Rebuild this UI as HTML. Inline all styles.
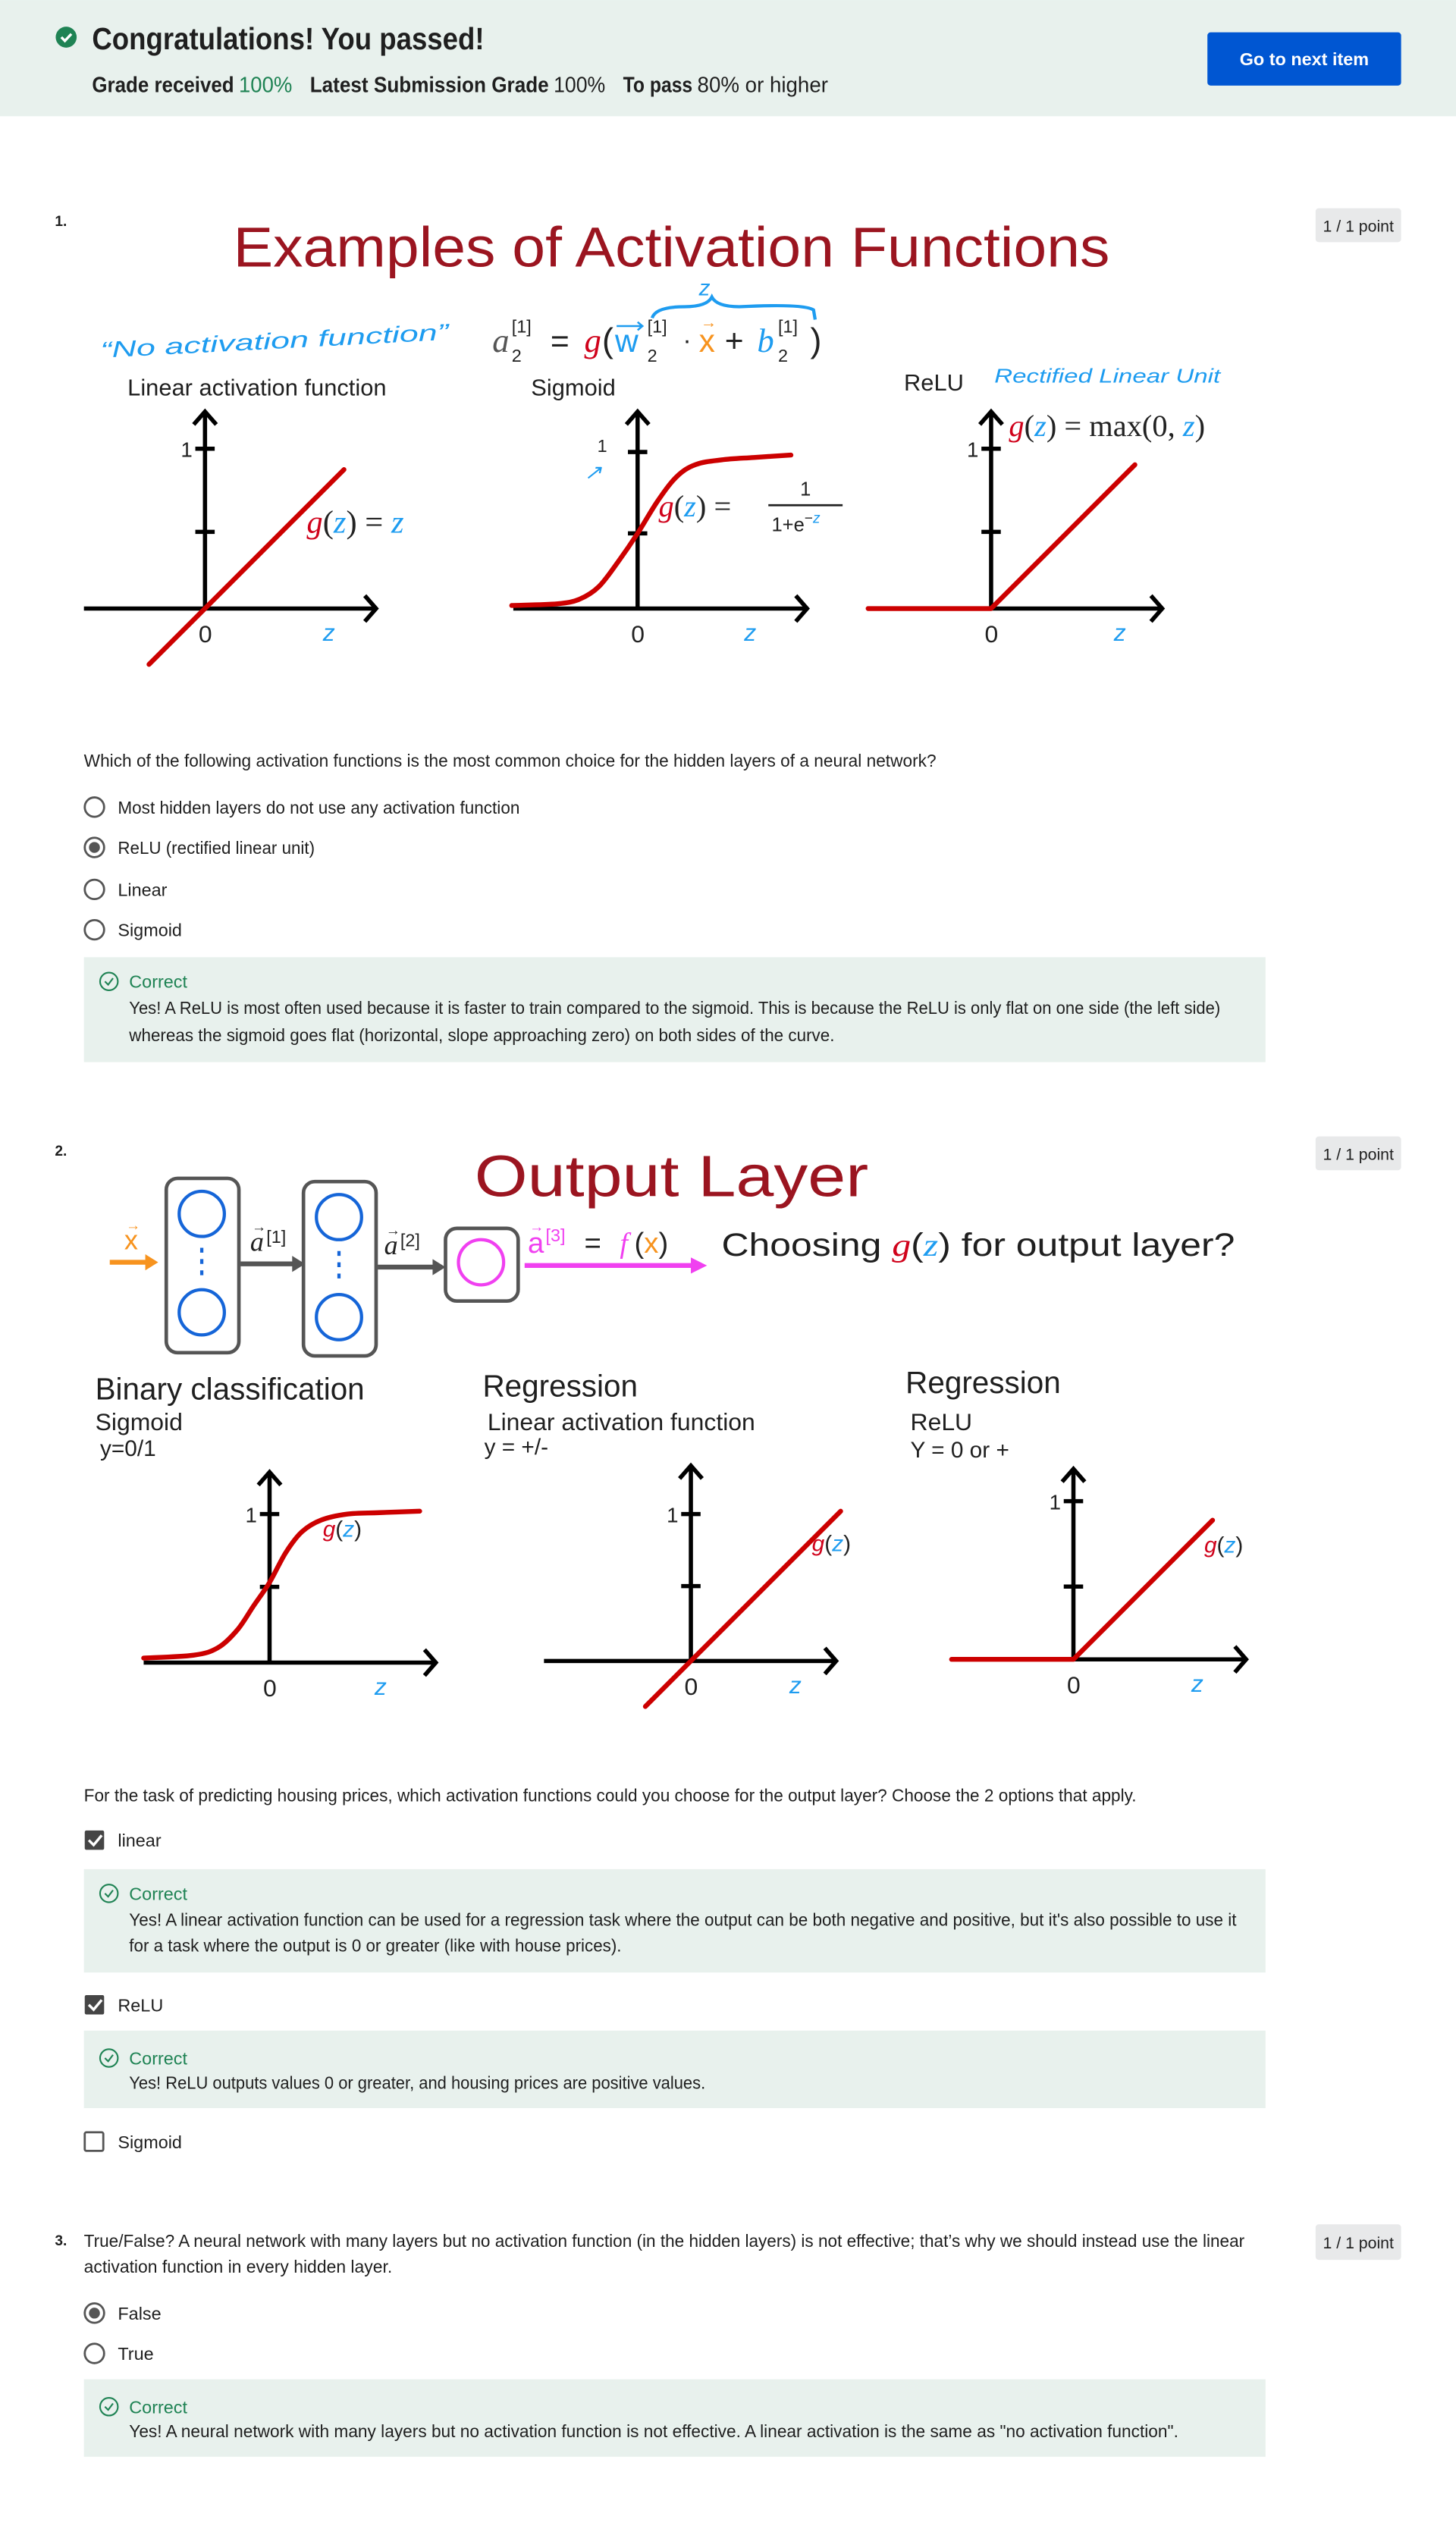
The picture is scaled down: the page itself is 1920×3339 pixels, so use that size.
<!DOCTYPE html>
<html><head><meta charset="utf-8">
<style>
html,body{margin:0;padding:0;background:#fff;}
svg{display:block;}
text{font-family:"Liberation Sans",sans-serif;}
.m{font-family:"Liberation Serif",serif;font-style:italic;}
.b{fill:#1f1f1f;}
.hand{font-family:"Liberation Sans",sans-serif;font-style:italic;fill:#1e9cf0;}
</style></head>
<body>
<svg id="page" width="1920" height="3339" viewBox="0 0 902 1568.6" xmlns="http://www.w3.org/2000/svg">
<!-- Header -->
<rect x="0" y="0" width="902" height="72" fill="#e8f1ed"/>
<g>
<circle cx="41" cy="23" r="6.5" fill="#1f8354"/>
<path d="M38 23 l2.2 2.3 l4 -4.3" stroke="#fff" stroke-width="1.6" fill="none"/>
</g>
<text x="57" y="30.5" font-size="19" font-weight="bold" fill="#1f1f1f" textLength="243" lengthAdjust="spacingAndGlyphs">Congratulations! You passed!</text>
<g font-size="13.5">
<text x="57" y="57" font-weight="bold" class="b" textLength="88" lengthAdjust="spacingAndGlyphs">Grade received</text>
<text x="148" y="57" fill="#1f8354" textLength="33" lengthAdjust="spacingAndGlyphs">100%</text>
<text x="192" y="57" font-weight="bold" class="b" textLength="148" lengthAdjust="spacingAndGlyphs">Latest Submission Grade</text>
<text x="343" y="57" class="b" textLength="32" lengthAdjust="spacingAndGlyphs">100%</text>
<text x="386" y="57" font-weight="bold" class="b" textLength="43" lengthAdjust="spacingAndGlyphs">To pass</text>
<text x="432" y="57" class="b" textLength="81" lengthAdjust="spacingAndGlyphs">80% or higher</text>
</g>
<g>
<rect x="748" y="20" width="120" height="33" rx="2" fill="#0056d2"/>
<text x="808" y="40.5" font-size="11" font-weight="bold" fill="#fff" text-anchor="middle">Go to next item</text>
</g>

<!-- Q1 -->
<text x="34" y="140" font-size="9" font-weight="bold" class="b">1.</text>
<g><rect x="815" y="129" width="53" height="21" rx="2" fill="#e8e9ea"/><text x="841.5" y="143.5" font-size="10" text-anchor="middle" class="b">1 / 1 point</text></g>
<text x="416" y="165" font-size="35" fill="#9b1520" text-anchor="middle" textLength="543" lengthAdjust="spacingAndGlyphs">Examples of Activation Functions</text>
<text x="62" y="216" font-size="14" class="hand" textLength="216" lengthAdjust="spacingAndGlyphs" transform="rotate(-3 170 210)">“No activation function”</text>
<g>
<text x="305" y="218" font-size="21" class="m" fill="#555">a</text>
<text x="317" y="206" font-size="11" fill="#222" font-family="Liberation Serif">[1]</text>
<text x="317" y="224" font-size="11" fill="#222">2</text>
<text x="341" y="218" font-size="20" fill="#222">=</text>
<text x="362" y="218" font-size="21" class="m" fill="#d0021b">g</text>
<text x="373" y="218" font-size="21" fill="#222" font-family="Liberation Serif">(</text>
<text x="381" y="218" font-size="20" fill="#1e9cf0" font-family="Liberation Serif">w</text>
<line x1="382" y1="202" x2="398" y2="202" stroke="#1e9cf0" stroke-width="1.2"/><path d="M395 199.5 l3 2.5 l-3 2.5" stroke="#1e9cf0" stroke-width="1.2" fill="none"/>
<text x="401" y="206" font-size="11" fill="#222" font-family="Liberation Serif">[1]</text>
<text x="401" y="224" font-size="11" fill="#222">2</text>
<text x="423" y="216" font-size="16" fill="#222">·</text>
<text x="433" y="218" font-size="20" fill="#f7931e" font-family="Liberation Serif">x</text>
<text x="434" y="203" font-size="10" fill="#f7931e">→</text>
<text x="449" y="218" font-size="20" fill="#222">+</text>
<text x="469" y="218" font-size="21" class="m" fill="#1e9cf0">b</text>
<text x="482" y="206" font-size="11" fill="#222" font-family="Liberation Serif">[1]</text>
<text x="482" y="224" font-size="11" fill="#222">2</text>
<text x="502" y="218" font-size="21" fill="#222" font-family="Liberation Serif">)</text>
<path d="M404 197 q2 -7 20 -7 q14 0 17 -6 q3 6 17 6 q40 -2 46 2 l1 6" stroke="#1e9cf0" stroke-width="2" fill="none"/>
<text x="433" y="183" font-size="14" class="hand">z</text>
</g>
<text x="79" y="245" font-size="14.5" class="b">Linear activation function</text>
<text x="329" y="245" font-size="14.5" class="b">Sigmoid</text>
<text x="560" y="242" font-size="14.5" class="b">ReLU</text>
<text x="616" y="237" font-size="12" class="hand" textLength="140" lengthAdjust="spacingAndGlyphs">Rectified Linear Unit</text>
<g><text x="190" y="330" font-size="20" class="m"><tspan fill="#d0021b">g</tspan><tspan fill="#222" font-style="normal">(</tspan><tspan fill="#1e9cf0">z</tspan><tspan fill="#222" font-style="normal">) = </tspan><tspan fill="#1e9cf0">z</tspan></text></g>
<g><text x="408" y="320" font-size="19" class="m"><tspan fill="#d0021b">g</tspan><tspan fill="#222" font-style="normal">(</tspan><tspan fill="#1e9cf0">z</tspan><tspan fill="#222" font-style="normal">) =</tspan></text>
<text x="499" y="307" font-size="12" fill="#222" font-family="Liberation Serif" text-anchor="middle">1</text><line x1="476" y1="313" x2="522" y2="313" stroke="#222" stroke-width="1.3"/>
<text x="478" y="329" font-size="12" fill="#222" font-family="Liberation Serif">1+e<tspan dy="-5" font-size="9">−</tspan><tspan font-size="9" fill="#1e9cf0" font-style="italic">z</tspan></text>
<text x="362" y="297" font-size="13" class="hand">↗</text><text x="370" y="280" font-size="11" fill="#222" font-family="Liberation Serif">1</text></g>
<g><text x="625" y="270" font-size="19" class="m"><tspan fill="#d0021b">g</tspan><tspan fill="#222" font-style="normal">(</tspan><tspan fill="#1e9cf0">z</tspan><tspan fill="#222" font-style="normal">) = max(0, </tspan><tspan fill="#1e9cf0">z</tspan><tspan fill="#222" font-style="normal">)</tspan></text></g>
<g id="plots1"></g>

<text x="52" y="475" font-size="11" class="b" textLength="528" lengthAdjust="spacingAndGlyphs">Which of the following activation functions is the most common choice for the hidden layers of a neural network?</text>
<g><circle cx="58.5" cy="500" r="6" fill="#fff" stroke="#555" stroke-width="1.3"/><text x="73" y="504" font-size="11" class="b" textLength="249" lengthAdjust="spacingAndGlyphs">Most hidden layers do not use any activation function</text></g>
<g><circle cx="58.5" cy="525" r="6" fill="#fff" stroke="#555" stroke-width="1.3"/><circle cx="58.5" cy="525" r="3.4" fill="#555"/><text x="73" y="529" font-size="11" class="b" textLength="122" lengthAdjust="spacingAndGlyphs">ReLU (rectified linear unit)</text></g>
<g><circle cx="58.5" cy="551" r="6" fill="#fff" stroke="#555" stroke-width="1.3"/><text x="73" y="555" font-size="11" class="b">Linear</text></g>
<g><circle cx="58.5" cy="576" r="6" fill="#fff" stroke="#555" stroke-width="1.3"/><text x="73" y="580" font-size="11" class="b">Sigmoid</text></g>
<g><rect x="52" y="593" width="732" height="65" fill="#e8f1ed"/>
<circle cx="67.5" cy="608" r="5.5" fill="none" stroke="#1f8354" stroke-width="1"/><path d="M65 608 l2 2 l3 -4" stroke="#1f8354" stroke-width="1" fill="none"/>
<text x="80" y="612" font-size="11" fill="#1f8354">Correct</text>
<text x="80" y="628" font-size="11" class="b" textLength="676" lengthAdjust="spacingAndGlyphs">Yes! A ReLU is most often used because it is faster to train compared to the sigmoid. This is because the ReLU is only flat on one side (the left side)</text>
<text x="80" y="645" font-size="11" class="b" textLength="437" lengthAdjust="spacingAndGlyphs">whereas the sigmoid goes flat (horizontal, slope approaching zero) on both sides of the curve.</text></g>

<!-- Q2 -->
<text x="34" y="716" font-size="9" font-weight="bold" class="b">2.</text>
<g><rect x="815" y="704" width="53" height="21" rx="2" fill="#e8e9ea"/><text x="841.5" y="718.5" font-size="10" text-anchor="middle" class="b">1 / 1 point</text></g>
<text x="416" y="741" font-size="36" fill="#9b1520" text-anchor="middle" textLength="244" lengthAdjust="spacingAndGlyphs">Output Layer</text>
<g>
<rect x="103" y="730" width="45" height="108" rx="7" fill="none" stroke="#555" stroke-width="2.2"/>
<circle cx="125" cy="752" r="14" fill="none" stroke="#1565d8" stroke-width="2"/><circle cx="125" cy="813" r="14" fill="none" stroke="#1565d8" stroke-width="2"/>
<line x1="125" y1="773" x2="125" y2="792" stroke="#1565d8" stroke-width="2" stroke-dasharray="3 4"/>
<rect x="188" y="732" width="45" height="108" rx="7" fill="none" stroke="#555" stroke-width="2.2"/>
<circle cx="210" cy="754" r="14" fill="none" stroke="#1565d8" stroke-width="2"/><circle cx="210" cy="816" r="14" fill="none" stroke="#1565d8" stroke-width="2"/>
<line x1="210" y1="775" x2="210" y2="794" stroke="#1565d8" stroke-width="2" stroke-dasharray="3 4"/>
<rect x="276" y="761" width="45" height="45" rx="7" fill="none" stroke="#555" stroke-width="2.2"/>
<circle cx="298" cy="782" r="14" fill="none" stroke="#f040f0" stroke-width="2"/>
<line x1="68" y1="782" x2="92" y2="782" stroke="#f7931e" stroke-width="3"/><path d="M90 777 l8 5 l-8 5z" fill="#f7931e"/>
<text x="77" y="774" font-size="17" fill="#f7931e" font-family="Liberation Serif">x</text><text x="78" y="762" font-size="9" fill="#f7931e">→</text>
<line x1="149" y1="783" x2="183" y2="783" stroke="#555" stroke-width="3"/><path d="M181 778 l8 5 l-8 5z" fill="#555"/>
<text x="155" y="775" font-size="17" class="m" fill="#222">a</text><text x="156" y="763" font-size="9" fill="#222">→</text><text x="165" y="770" font-size="11" fill="#222" font-family="Liberation Serif">[1]</text>
<line x1="234" y1="785" x2="270" y2="785" stroke="#555" stroke-width="3"/><path d="M268 780 l8 5 l-8 5z" fill="#555"/>
<text x="238" y="777" font-size="17" class="m" fill="#222">a</text><text x="239" y="765" font-size="9" fill="#222">→</text><text x="248" y="772" font-size="11" fill="#222" font-family="Liberation Serif">[2]</text>
<line x1="325" y1="784" x2="430" y2="784" stroke="#f040f0" stroke-width="3"/><path d="M428 779 l10 5 l-10 5z" fill="#f040f0"/>
<text x="327" y="776" font-size="18" fill="#f040f0" font-family="Liberation Serif">a</text><text x="328" y="763" font-size="9" fill="#f040f0">→</text><text x="338" y="769" font-size="11" fill="#f040f0" font-family="Liberation Serif">[3]</text>
<text x="362" y="776" font-size="18" fill="#222">=</text><text x="384" y="776" font-size="18" class="m" fill="#f040f0">f</text><text x="393" y="776" font-size="18" fill="#222" font-family="Liberation Serif">(<tspan fill="#f7931e">x</tspan>)</text>
<text x="447" y="778" font-size="20" class="b" textLength="318" lengthAdjust="spacingAndGlyphs">Choosing <tspan class="m" fill="#d0021b">g</tspan>(<tspan class="m" fill="#1e9cf0">z</tspan>) for output layer?</text>
</g>
<text x="59" y="867" font-size="19" class="b">Binary classification</text>
<text x="59" y="886" font-size="15" class="b">Sigmoid</text>
<text x="62" y="902" font-size="14" class="b">y=0/1</text>
<text x="299" y="865" font-size="19" class="b">Regression</text>
<text x="302" y="886" font-size="15" class="b">Linear activation function</text>
<text x="300" y="901" font-size="14" class="b">y = +/-</text>
<text x="561" y="863" font-size="19" class="b">Regression</text>
<text x="564" y="886" font-size="15" class="b">ReLU</text>
<text x="564" y="903" font-size="14" class="b">Y = 0 or +</text>
<g id="plots2"></g>

<text x="52" y="1116" font-size="11" class="b" textLength="652" lengthAdjust="spacingAndGlyphs">For the task of predicting housing prices, which activation functions could you choose for the output layer? Choose the 2 options that apply.</text>
<g><rect x="52.5" y="1134" width="12" height="12" rx="1" fill="#454545"/><path d="M55 1140 l3 3 l5 -6" stroke="#fff" stroke-width="1.6" fill="none"/><text x="73" y="1144" font-size="11" class="b">linear</text></g>
<g><rect x="52" y="1158" width="732" height="64" fill="#e8f1ed"/>
<circle cx="67.5" cy="1173" r="5.5" fill="none" stroke="#1f8354" stroke-width="1"/><path d="M65 1173 l2 2 l3 -4" stroke="#1f8354" stroke-width="1" fill="none"/>
<text x="80" y="1177" font-size="11" fill="#1f8354">Correct</text>
<text x="80" y="1193" font-size="11" class="b" textLength="686" lengthAdjust="spacingAndGlyphs">Yes! A linear activation function can be used for a regression task where the output can be both negative and positive, but it's also possible to use it</text>
<text x="80" y="1209" font-size="11" class="b" textLength="305" lengthAdjust="spacingAndGlyphs">for a task where the output is 0 or greater (like with house prices).</text></g>
<g><rect x="52.5" y="1236" width="12" height="12" rx="1" fill="#454545"/><path d="M55 1242 l3 3 l5 -6" stroke="#fff" stroke-width="1.6" fill="none"/><text x="73" y="1246" font-size="11" class="b">ReLU</text></g>
<g><rect x="52" y="1258" width="732" height="48" fill="#e8f1ed"/>
<circle cx="67.5" cy="1275" r="5.5" fill="none" stroke="#1f8354" stroke-width="1"/><path d="M65 1275 l2 2 l3 -4" stroke="#1f8354" stroke-width="1" fill="none"/>
<text x="80" y="1279" font-size="11" fill="#1f8354">Correct</text>
<text x="80" y="1294" font-size="11" class="b" textLength="357" lengthAdjust="spacingAndGlyphs">Yes! ReLU outputs values 0 or greater, and housing prices are positive values.</text></g>
<g><rect x="52.5" y="1321" width="11.5" height="11.5" rx="1" fill="#fff" stroke="#555" stroke-width="1.3"/><text x="73" y="1331" font-size="11" class="b">Sigmoid</text></g>

<!-- Q3 -->
<text x="34" y="1391" font-size="9" font-weight="bold" class="b">3.</text>
<g><rect x="815" y="1378" width="53" height="22" rx="2" fill="#e8e9ea"/><text x="841.5" y="1393" font-size="10" text-anchor="middle" class="b">1 / 1 point</text></g>
<g>
<text x="52" y="1392" font-size="11" class="b" textLength="719" lengthAdjust="spacingAndGlyphs">True/False? A neural network with many layers but no activation function (in the hidden layers) is not effective; that’s why we should instead use the linear</text>
<text x="52" y="1408" font-size="11" class="b" textLength="191" lengthAdjust="spacingAndGlyphs">activation function in every hidden layer.</text></g>
<g><circle cx="58.5" cy="1433" r="6" fill="#fff" stroke="#555" stroke-width="1.3"/><circle cx="58.5" cy="1433" r="3.4" fill="#555"/><text x="73" y="1437" font-size="11" class="b">False</text></g>
<g><circle cx="58.5" cy="1458" r="6" fill="#fff" stroke="#555" stroke-width="1.3"/><text x="73" y="1462" font-size="11" class="b">True</text></g>
<g><rect x="52" y="1474" width="732" height="48" fill="#e8f1ed"/>
<circle cx="67.5" cy="1491" r="5.5" fill="none" stroke="#1f8354" stroke-width="1"/><path d="M65 1491 l2 2 l3 -4" stroke="#1f8354" stroke-width="1" fill="none"/>
<text x="80" y="1495" font-size="11" fill="#1f8354">Correct</text>
<text x="80" y="1510" font-size="11" class="b" textLength="650" lengthAdjust="spacingAndGlyphs">Yes! A neural network with many layers but no activation function is not effective. A linear activation is the same as "no activation function".</text></g>
</svg>
<script>
// Function-plot data (z values and g(z) values)
const linZ = [-0.35, 0.87];
const linG = [-0.35, 0.87];
const sigZ = [-3.9, -2.5, -1.8, -1.2, -0.6, 0, 0.6, 1.2, 1.8, 2.6, 3.6, 4.75];
const sigG = [0.02, 0.03, 0.06, 0.14, 0.3, 0.48, 0.68, 0.84, 0.92, 0.95, 0.965, 0.98];
const reluZ = [-0.77, 0, 0.9];
const reluG = [0, 0, 0.9];
const sig2Z = [-3.9, -2.35, -1.6, -1.0, -0.5, 0, 0.5, 1.0, 1.6, 2.4, 3.4, 4.65];
const sig2G = [0.03, 0.05, 0.1, 0.22, 0.38, 0.54, 0.74, 0.88, 0.96, 1.0, 1.01, 1.02];
const lin2Z = [-0.31, 1.02];
const lin2G = [-0.31, 1.02];
const relu2Z = [-0.77, 0, 0.88];
const relu2G = [0, 0, 0.88];
const tickLabels = ["1", "0", "z"];

const NS = "http://www.w3.org/2000/svg";
function mk(tag, attrs, parent){const e=document.createElementNS(NS,tag);for(const k in attrs)e.setAttribute(k,attrs[k]);parent.appendChild(e);return e;}
function smoothPath(p){
  if(p.length<3) return "M"+p.map(q=>q[0].toFixed(1)+" "+q[1].toFixed(1)).join(" L");
  let d="M"+p[0][0].toFixed(1)+" "+p[0][1].toFixed(1);
  for(let i=0;i<p.length-1;i++){
    const p0=p[Math.max(0,i-1)],p1=p[i],p2=p[i+1],p3=p[Math.min(p.length-1,i+2)];
    const c1=[p1[0]+(p2[0]-p0[0])/6,p1[1]+(p2[1]-p0[1])/6];
    const c2=[p2[0]-(p3[0]-p1[0])/6,p2[1]-(p3[1]-p1[1])/6];
    d+=` C${c1[0].toFixed(1)} ${c1[1].toFixed(1)} ${c2[0].toFixed(1)} ${c2[1].toFixed(1)} ${p2[0].toFixed(1)} ${p2[1].toFixed(1)}`;
  }
  return d;
}

function plot(parent, name, cfg, zs, gs){
  const g = mk("g", {}, parent);
  
  
  const xs = z => cfg.ox + z*cfg.sx;
  const ys = v => cfg.oy - v*cfg.sy;
  mk("line",{x1:cfg.x0,y1:cfg.oy,x2:cfg.x1,y2:cfg.oy,stroke:"#000","stroke-width":2.6},g);
  mk("path",{d:`M${cfg.x1-7} ${cfg.oy-8} L${cfg.x1} ${cfg.oy} L${cfg.x1-7} ${cfg.oy+8}`,stroke:"#000","stroke-width":2.6,fill:"none"},g);
  mk("line",{x1:cfg.ox,y1:cfg.oy,x2:cfg.ox,y2:cfg.top,stroke:"#000","stroke-width":2.6},g);
  mk("path",{d:`M${cfg.ox-7} ${cfg.top+8} L${cfg.ox} ${cfg.top} L${cfg.ox+7} ${cfg.top+8}`,stroke:"#000","stroke-width":2.6,fill:"none"},g);
  [1, cfg.midTick].forEach(v=>{mk("line",{x1:cfg.ox-6,y1:ys(v),x2:cfg.ox+6,y2:ys(v),stroke:"#000","stroke-width":2.6},g);});
  if(cfg.showOne){const t=mk("text",{x:cfg.ox-15,y:ys(1)+5,"font-size":13,"font-family":"Liberation Serif",fill:"#222"},g);t.textContent=tickLabels[0];}
  const t0=mk("text",{x:cfg.ox-4,y:cfg.oy+21,"font-size":15,"font-family":"Liberation Serif",fill:"#222"},g);t0.textContent=tickLabels[1];
  const tz=mk("text",{x:cfg.zx,y:cfg.oy+20,"font-size":15,"font-family":"Liberation Serif","font-style":"italic",fill:"#1e9cf0"},g);tz.textContent=tickLabels[2];
  const pts = zs.map((z,i)=>[xs(z), ys(gs[i])]);
  const d = cfg.smooth ? smoothPath(pts) : "M"+pts.map(q=>q[0].toFixed(1)+" "+q[1].toFixed(1)).join(" L");
  const c = mk("path",{d:d,fill:"none",stroke:"#cc0000","stroke-width":3,"stroke-linejoin":"round","stroke-linecap":"round"},g);
  
  
  if(cfg.glabel){const gl=mk("text",{x:cfg.glabel[0],y:cfg.glabel[1],"font-size":14,"font-family":"Liberation Serif",fill:"#222"},g);
    gl.innerHTML='<tspan fill="#d0021b" font-style="italic">g</tspan>(<tspan fill="#1e9cf0" font-style="italic">z</tspan>)';}
}
const p1=document.getElementById("plots1"), p2=document.getElementById("plots2");
plot(p1,"linear-plot",{ox:127,oy:377,sx:99,sy:99,x0:52,x1:233,top:255,midTick:0.48,showOne:true,zx:200},linZ,linG);
plot(p1,"sigmoid-plot",{ox:395,oy:377,sx:20,sy:97,x0:318,x1:500,top:255,midTick:0.48,showOne:false,zx:461,smooth:true},sigZ,sigG);
plot(p1,"relu-plot",{ox:614,oy:377,sx:99,sy:99,x0:538,x1:720,top:255,midTick:0.48,showOne:true,zx:690},reluZ,reluG);
plot(p2,"binary-sigmoid-plot",{ox:167,oy:1030,sx:20,sy:92,x0:89,x1:270,top:912,midTick:0.51,showOne:true,zx:232,glabel:[200,952],smooth:true},sig2Z,sig2G);
plot(p2,"linear-regression-plot",{ox:428,oy:1029,sx:91,sy:91,x0:337,x1:518,top:908,midTick:0.51,showOne:true,zx:489,glabel:[503,961]},lin2Z,lin2G);
plot(p2,"relu-regression-plot",{ox:665,oy:1028,sx:98,sy:98,x0:590,x1:772,top:910,midTick:0.46,showOne:true,zx:738,glabel:[746,962]},relu2Z,relu2G);
</script>
</body></html>
